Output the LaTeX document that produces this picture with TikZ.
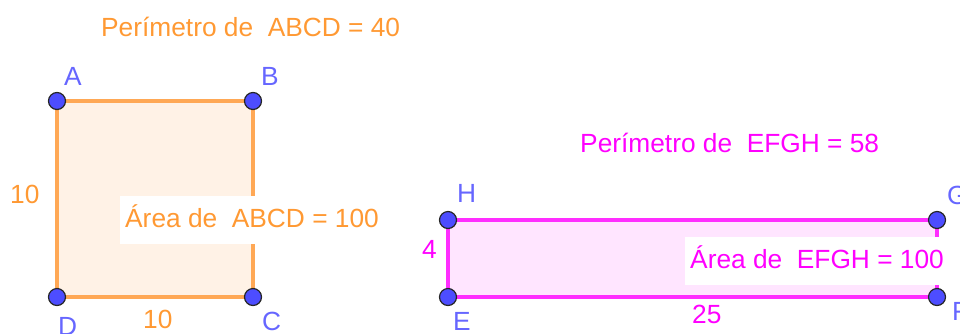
\documentclass[tikz,border=0pt]{standalone}
\usepackage{fontspec}
\setmainfont{Liberation Sans}
\usepackage{xcolor}

\definecolor{ggbOrange}{RGB}{255,153,51}
\definecolor{ggbOrangeLine}{RGB}{255,168,85}
\definecolor{ggbOrangeFill}{RGB}{255,242,230}
\definecolor{ggbMagenta}{RGB}{255,0,255}
\definecolor{ggbMagentaLine}{RGB}{255,45,255}
\definecolor{ggbMagentaFill}{RGB}{255,229,255}
\definecolor{ptBlue}{RGB}{77,77,255}
\definecolor{lblBlue}{RGB}{102,102,255}

\tikzset{
  vertex/.style={circle, fill=ptBlue, draw=black!85, line width=1.2pt, minimum size=17pt, inner sep=0pt},
  txt/.style={anchor=base west, inner sep=0pt, font=\fontsize{26.3}{30}\selectfont},
  vlabel/.style={txt, text=lblBlue},
  areabox/.style={txt, fill=white, inner xsep=5pt, text height=31pt, text depth=17pt}
}

\begin{document}
\begin{tikzpicture}[x=1pt, y=-1pt]

    \useasboundingbox (0,0) rectangle (960,333);

    % Square ABCD (vertices)
    \coordinate (A) at (57,101);
    \coordinate (B) at (253,101);
    \coordinate (C) at (253,297);
    \coordinate (D) at (57,297);

    % Rectangle EFGH (vertices)
    \coordinate (E) at (448,297);
    \coordinate (F) at (937,297);
    \coordinate (G) at (937,220);
    \coordinate (H) at (448,220);

    % Polygons
    \draw[ggbOrangeLine, line width=3.2pt, fill=ggbOrangeFill] (A) -- (B) -- (C) -- (D) -- cycle;
    \draw[ggbMagentaLine, line width=3.2pt, fill=ggbMagentaFill] (E) -- (F) -- (G) -- (H) -- cycle;

    % Perimeters
    \node[txt, text=ggbOrange] (perABCD) at (101,36) {Perímetro de~~ABCD = 40};
    \node[txt, text=ggbMagenta] (perEFGH) at (580,152) {Perímetro de~~EFGH = 58};

    % Areas (white boxes over the polygons)
    \node[areabox, text=ggbOrange] (areaABCD) at (120,227) {Área de~~ABCD = 100};
    \node[areabox, text=ggbMagenta] (areaEFGH) at (685,268) {Área de~~EFGH = 100};

    % Side lengths
    \node[txt, text=ggbOrange] (sideAD) at (10,203) {10};
    \node[txt, text=ggbOrange] (sideDC) at (143,328) {10};
    \node[txt, text=ggbMagenta] (sideEH) at (422,258) {4};
    \node[txt, text=ggbMagenta] (sideEF) at (692,323) {25};

    % Points
    \foreach \p in {A,B,C,D,E,F,G,H}
        \node[vertex] (pt\p) at (\p) {};

    % Point names
    \node[vlabel] (lblA) at (64,85) {A};
    \node[vlabel] (lblB) at (261,85) {B};
    \node[vlabel] (lblC) at (262,330) {C};
    \node[vlabel] (lblD) at (58,335) {D};
    \node[vlabel] (lblE) at (453,330) {E};
    \node[vlabel] (lblF) at (952,320) {F};
    \node[vlabel] (lblG) at (947,204) {G};
    \node[vlabel] (lblH) at (457,202) {H};

\end{tikzpicture}
\end{document}
